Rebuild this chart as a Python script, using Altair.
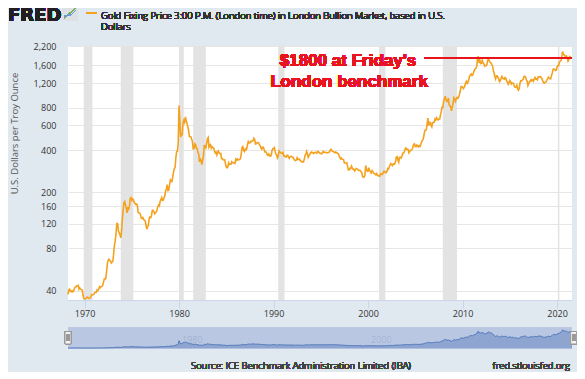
import altair as alt
import pandas as pd

# Monthly gold fixing price (USD / troy oz)
gold_1968_1979 = [
    37.7, 40.5, 41.0, 39.5, 39.3, 40.0, 39.3, 39.8, 41.1,
    42.3, 42.6, 43.3, 43.2, 43.6, 41.0, 41.8, 41.0, 40.7, 40.4, 37.4, 35.2,
    34.9, 35.0, 35.3, 35.9, 36.0, 35.5, 35.3, 35.4, 36.2, 37.5, 37.4, 37.4,
    37.9, 38.7, 38.9, 39.0, 40.5, 40.1, 41.0, 42.7, 42.0, 42.5, 42.9, 43.5,
    45.8, 48.3, 48.3, 49.0, 54.6, 62.1, 65.7, 67.0, 65.5, 64.9, 62.9, 63.9,
    65.1, 74.2, 84.4, 90.5, 102.0, 120.1, 120.2, 106.8, 103.0, 100.1, 94.9, 106.7,
    129.2, 150.2, 168.4, 172.2, 163.3, 154.1, 143.0, 154.6, 151.8, 158.8, 181.7, 183.9,
    175.8, 179.6, 178.2, 170.1, 167.4, 164.2, 165.2, 163.1, 144.3, 142.8, 142.8, 139.3,
    131.6, 130.6, 132.6, 128.2, 126.8, 125.6, 117.7, 109.5, 114.1, 116.0, 130.3, 133.7,
    132.3, 136.3, 148.4, 149.2, 146.7, 141.0, 143.4, 144.9, 150.0, 158.3, 162.5, 160.5,
    173.1, 178.2, 183.7, 175.3, 176.3, 183.7, 188.8, 206.1, 212.4, 227.3, 206.1, 207.8,
    227.3, 245.7, 242.1, 239.2, 257.2, 279.1, 294.7, 300.8, 355.1, 391.7, 392.5, 455.1,
]
gold_1980s = [
    830, 640, 495, 515, 515, 620, 650, 630, 690, 650, 620, 590,
    557, 500, 499, 496, 480, 460, 409, 410, 443, 437, 413, 410,
    384, 374, 330, 350, 334, 315, 339, 364, 435, 422, 414, 445,
    481, 491, 420, 432, 438, 413, 423, 416, 412, 394, 382, 388,
    370, 386, 394, 381, 377, 378, 348, 348, 341, 340, 341, 320,
    303, 299, 304, 325, 316, 317, 317, 330, 324, 325, 325, 322,
    345, 339, 346, 340, 342, 343, 348, 376, 418, 423, 398, 391,
    408, 401, 409, 438, 460, 450, 450, 461, 460, 465, 467, 486,
    477, 442, 443, 451, 452, 451, 437, 431, 413, 406, 420, 419,
    404, 388, 390, 384, 371, 367, 375, 365, 362, 367, 394, 409,
]
gold_1990s = [
    410, 417, 393, 374, 369, 352, 362, 395, 389, 381, 381, 378,
    384, 364, 364, 358, 357, 367, 368, 356, 349, 359, 360, 361,
    354, 354, 345, 338, 337, 340, 353, 343, 345, 344, 335, 334,
    329, 330, 330, 342, 367, 372, 392, 379, 355, 364, 373, 383,
    387, 382, 384, 378, 381, 385, 385, 380, 391, 389, 384, 379,
    379, 376, 382, 391, 385, 387, 386, 383, 383, 383, 386, 387,
    400, 405, 396, 393, 392, 385, 383, 387, 383, 381, 378, 369,
    355, 347, 352, 344, 344, 341, 324, 324, 323, 325, 306, 289,
    289, 297, 296, 308, 299, 292, 293, 284, 289, 296, 294, 291,
    287, 287, 286, 282, 277, 261, 256, 257, 265, 311, 293, 283,
]
gold_2000s = [
    284, 300, 286, 280, 275, 286, 282, 274, 273, 270, 266, 272,
    266, 262, 263, 261, 272, 270, 268, 273, 283, 283, 276, 276,
    282, 296, 294, 302, 314, 321, 314, 310, 319, 317, 319, 333,
    357, 359, 340, 328, 355, 356, 351, 360, 379, 379, 389, 407,
    414, 405, 406, 404, 383, 392, 398, 400, 406, 420, 439, 442,
    424, 423, 434, 429, 422, 431, 424, 438, 456, 470, 476, 510,
    549, 555, 557, 610, 676, 596, 633, 632, 598, 585, 627, 629,
    631, 665, 655, 679, 667, 655, 665, 665, 712, 754, 806, 803,
    889, 922, 968, 909, 888, 889, 939, 839, 829, 806, 760, 816,
    858, 943, 924, 890, 928, 946, 934, 949, 996, 1043, 1127, 1134,
]
gold_2010s = [
    1118, 1095, 1113, 1149, 1205, 1232, 1193, 1215, 1271, 1343, 1370, 1391,
    1356, 1372, 1424, 1474, 1510, 1529, 1572, 1780, 1860, 1665, 1739, 1652,
    1656, 1742, 1673, 1650, 1585, 1596, 1594, 1626, 1744, 1790, 1721, 1688,
    1671, 1627, 1593, 1487, 1414, 1343, 1286, 1347, 1349, 1316, 1275, 1225,
    1244, 1300, 1336, 1299, 1287, 1279, 1311, 1296, 1239, 1222, 1176, 1202,
    1251, 1227, 1179, 1198, 1199, 1181, 1128, 1117, 1125, 1159, 1086, 1068,
    1097, 1200, 1246, 1242, 1260, 1276, 1337, 1340, 1326, 1267, 1238, 1152,
    1192, 1234, 1231, 1267, 1246, 1261, 1236, 1283, 1315, 1280, 1283, 1265,
    1331, 1331, 1325, 1335, 1303, 1282, 1238, 1202, 1198, 1215, 1221, 1250,
    1291, 1320, 1301, 1286, 1284, 1359, 1413, 1500, 1510, 1495, 1471, 1480,
]
gold_2020s = [
    1560, 1597, 1591, 1683, 1716, 1732, 1847, 2010, 1921, 1901, 1866, 1858,
    1867, 1808, 1718, 1760, 1850, 1834, 1807, 1795,
]

recession_start = ["1969-12-01", "1973-11-01", "1980-01-01", "1981-07-01",
                   "1990-07-01", "2001-03-01", "2007-12-01", "2020-02-01"]
recession_end = ["1970-11-01", "1975-03-01", "1980-07-01", "1982-11-01",
                 "1991-03-01", "2001-11-01", "2009-06-01", "2020-04-01"]

y_ticks = [40, 80, 120, 160, 200, 400, 600, 800, 1200, 1600, 2200]
x_tick_years = [1970, 1980, 1990, 2000, 2010, 2020]
nav_label_years = [1980, 2000, 2020]
benchmark_price = 1800

values = gold_1968_1979 + gold_1980s + gold_1990s + gold_2000s + gold_2010s + gold_2020s
df = pd.DataFrame({
    "date": pd.date_range("1968-04-01", periods=len(values), freq="MS"),
    "price": values,
})
rec = pd.DataFrame({"start": recession_start, "end": recession_end})
nav_lab = pd.DataFrame({"date": [f"{y}-01-01" for y in nav_label_years],
                        "label": [str(y) for y in nav_label_years]})

W, H = 504, 254
FONT = "Open Sans"
ORANGE = "#f4a21e"
RED = "#e8141f"

x_dom = [alt.DateTime(year=1968, month=4, date=1), alt.DateTime(year=2021, month=8, date=1)]
x_scale = alt.Scale(domain=x_dom)
y_scale = alt.Scale(type="log", domain=[34.33, 2200], nice=False, zero=False)

x_axis = alt.Axis(
    values=[alt.DateTime(year=y, month=1, date=1) for y in x_tick_years],
    format="%Y", title=None, grid=False, tickSize=8, tickColor="#ccd6eb",
    domainColor="#ccd6eb", labelPadding=1, labelFontSize=9, labelColor="#333333",
    labelFont=FONT,
)
y_axis = alt.Axis(
    values=y_ticks, format=",", grid=True, gridColor="#e6e6e6", ticks=False,
    domain=False, labelPadding=12, labelFontSize=9, labelColor="#333333",
    labelFont=FONT, title="U.S. Dollars per Troy Ounce", titleFont=FONT,
    titleFontSize=9.5, titleFontWeight="normal", titleColor="#555555",
    titleX=-54, titleY=87, titleAngle=270, titleAlign="center", titleBaseline="middle",
)

recess = alt.Chart(rec).mark_rect(color="#e3e3e3").encode(
    x=alt.X("start:T", scale=x_scale, title=None, axis=x_axis),
    x2="end:T",
)
line = alt.Chart(df).mark_line(color=ORANGE, strokeWidth=1.6).encode(
    x=alt.X("date:T", scale=x_scale, title=None, axis=x_axis),
    y=alt.Y("price:Q", scale=y_scale, axis=y_axis),
)
red_rule = alt.Chart(df).mark_rule(color=RED, strokeWidth=1.2).encode(
    x=alt.X(datum=alt.DateTime(year=2006, month=1, date=1), type="temporal"),
    x2=alt.X2(datum=alt.DateTime(year=2021, month=8, date=1)),
    y=alt.Y(datum=benchmark_price, type="quantitative", scale=y_scale),
)
main = alt.layer(recess, line, red_rule)

ann1 = alt.Chart(df).mark_text(
    text="$1800 at Friday's", font="Liberation Sans", fontWeight="bold",
    fontSize=17, color=RED, align="center", baseline="middle",
).encode(x=alt.value(280), y=alt.value(15))
ann2 = alt.Chart(df).mark_text(
    text="London benchmark", font="Liberation Sans", fontWeight="bold",
    fontSize=17, color=RED, align="center", baseline="middle",
).encode(x=alt.value(281), y=alt.value(36))

# header
fred = alt.Chart(df).mark_text(
    text="FRED", font="DejaVu Sans", fontWeight="bold", fontSize=18,
    color="#231f20", align="left", baseline="alphabetic",
).encode(x=alt.value(-60), y=alt.value(-25))
icon_bg = alt.Chart(df).mark_rect(color="#dde1e6").encode(
    x=alt.value(-6), x2=alt.value(10), y=alt.value(-40), y2=alt.value(-25))
icon_g1 = alt.Chart(df).mark_rule(color="#77b255", strokeWidth=1).encode(
    x=alt.value(-4), x2=alt.value(2), y=alt.value(-28), y2=alt.value(-33))
icon_g2 = alt.Chart(df).mark_rule(color="#77b255", strokeWidth=1).encode(
    x=alt.value(2), x2=alt.value(8), y=alt.value(-33), y2=alt.value(-38))
icon_b1 = alt.Chart(df).mark_rule(color="#6b9bd6", strokeWidth=1).encode(
    x=alt.value(-4), x2=alt.value(3), y=alt.value(-30), y2=alt.value(-31))
icon_b2 = alt.Chart(df).mark_rule(color="#6b9bd6", strokeWidth=1).encode(
    x=alt.value(3), x2=alt.value(8), y=alt.value(-31), y2=alt.value(-36))
legend_line = alt.Chart(df).mark_rule(color=ORANGE, strokeWidth=2).encode(
    x=alt.value(18), x2=alt.value(29), y=alt.value(-33))
title1 = alt.Chart(df).mark_text(
    text="Gold Fixing Price 3:00 P.M. (London time) in London Bullion Market, based in U.S.",
    font=FONT, fontSize=9.5, fontWeight=300, color="#333333", align="left",
    baseline="alphabetic",
).encode(x=alt.value(33), y=alt.value(-27))
title2 = alt.Chart(df).mark_text(
    text="Dollars", font=FONT, fontSize=9.5, fontWeight=300, color="#333333",
    align="left", baseline="alphabetic",
).encode(x=alt.value(33), y=alt.value(-16))

# navigator
nav_bg = alt.Chart(df).mark_rect(color="#bac7e3").encode(
    x=alt.value(0), x2=alt.value(W), y=alt.value(281.7), y2=alt.value(302.3))
nav_area = alt.Chart(df).mark_area(
    color="#8da5d0", line={"color": "#4f78ba", "strokeWidth": 1}, opacity=1,
).encode(
    x=alt.X("date:T", scale=x_scale, title=None, axis=x_axis),
    y=alt.Y("price:Q", scale=alt.Scale(domain=[0, 2100], range=[302.3, 283.0],
                                       nice=False, zero=True), axis=None),
)
nav_text = alt.Chart(nav_lab).mark_text(
    font=FONT, fontSize=9, fontWeight=300, color="#98a7c7", align="left",
    baseline="middle", dx=3,
).encode(
    x=alt.X("date:T", scale=x_scale, title=None, axis=x_axis),
    y=alt.value(293.5), text="label:N",
)
handles = []
for hx in (-3, 502.7):
    handles.append(alt.Chart(df).mark_rect(color="#f2f2f2", stroke="#999999", strokeWidth=1).encode(
        x=alt.value(hx), x2=alt.value(hx + 6), y=alt.value(285.5), y2=alt.value(298)))
    for dx in (2, 4):
        handles.append(alt.Chart(df).mark_rule(color="#999999", strokeWidth=1).encode(
            x=alt.value(hx + dx), y=alt.value(288.5), y2=alt.value(295)))

footer1 = alt.Chart(df).mark_text(
    text="Source: ICE Benchmark Administration Limited (IBA)", font=FONT,
    fontSize=9.5, fontWeight=300, color="#444444", align="center", baseline="middle",
).encode(x=alt.value(233), y=alt.value(320))
footer2 = alt.Chart(df).mark_text(
    text="fred.stlouisfed.org", font=FONT, fontSize=9.5, fontWeight=300,
    color="#444444", align="right", baseline="middle",
).encode(x=alt.value(502), y=alt.value(320))

chart = alt.layer(
    main, nav_bg, nav_area, nav_text, *handles,
    ann1, ann2, fred, icon_bg, icon_g1, icon_g2, icon_b1, icon_b2,
    legend_line, title1, title2, footer1, footer2,
).resolve_scale(y="independent").properties(
    width=W, height=H,
    padding={"left": 60, "top": 38, "right": 5, "bottom": 72},
    autosize=alt.AutoSizeParams(type="none"),
    background="#e1e9f0",
).configure_view(fill="white", strokeWidth=0)

chart.save("out.html", embed_options={"renderer": "svg", "actions": False})
